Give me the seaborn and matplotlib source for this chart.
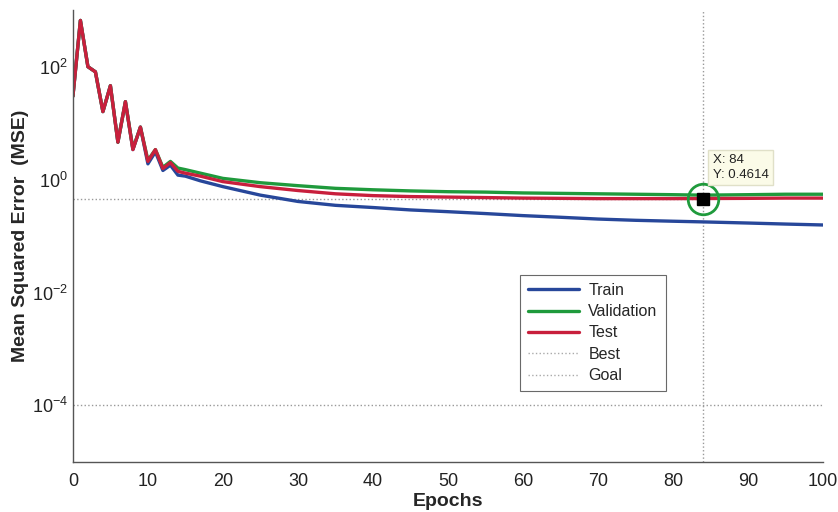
import pandas as pd
import matplotlib
matplotlib.use("Agg")
import matplotlib.pyplot as plt
import seaborn as sns
from matplotlib.lines import Line2D

sns.set_theme(style="white")
plt.rcParams['font.family'] = ['Liberation Sans', 'DejaVu Sans']

# Values
epochs = [0, 1, 2, 3, 4, 5, 6, 7, 8, 9, 10, 11, 12, 13, 14, 15, 17, 20, 25, 30,
          35, 40, 45, 50, 55, 60, 65, 70, 75, 80, 84, 90, 95, 100]
train_mse = [30, 660, 100, 81, 16, 46, 4.6, 24, 3.4, 8.5, 1.9, 3.1, 1.45, 1.8, 1.2, 1.15, 0.95, 0.75, 0.53, 0.41,
             0.35, 0.32, 0.29, 0.27, 0.25, 0.23, 0.215, 0.2, 0.19, 0.183, 0.178, 0.17, 0.163, 0.157]
valid_mse = [30, 660, 100, 81, 16, 46, 4.6, 24, 3.5, 8.5, 2.2, 3.4, 1.65, 2.1, 1.6, 1.5, 1.3, 1.05, 0.88, 0.78,
             0.7, 0.66, 0.63, 0.61, 0.6, 0.58, 0.57, 0.56, 0.55, 0.54, 0.53, 0.54, 0.55, 0.55]
test_mse = [30, 660, 100, 81, 16, 46, 4.6, 24, 3.4, 8.5, 2.1, 3.4, 1.57, 2.0, 1.4, 1.3, 1.15, 0.92, 0.75, 0.64,
            0.56, 0.52, 0.5, 0.49, 0.48, 0.47, 0.465, 0.46, 0.46, 0.46, 0.4614, 0.465, 0.47, 0.47]
best_epoch = 84
best_value = 0.4614
goal = 1e-4

df = pd.concat([
    pd.DataFrame({"Epoch": epochs, "MSE": train_mse, "Set": "Train"}),
    pd.DataFrame({"Epoch": epochs, "MSE": valid_mse, "Set": "Validation"}),
    pd.DataFrame({"Epoch": epochs, "MSE": test_mse, "Set": "Test"}),
])
colors = {"Train": "#27479a", "Validation": "#1f9a3c", "Test": "#c81f3c"}

fig = plt.figure(figsize=(8.38, 5.12), dpi=100)
ax = fig.add_axes([0.087, 0.098, 0.895, 0.882])

# best/goal guide lines
ax.axhline(goal, color="#999999", ls=":", lw=1)
ax.axhline(best_value, xmax=best_epoch / 100, color="#999999", ls=":", lw=1)
ax.axvline(best_epoch, color="#999999", ls=":", lw=1)

sns.lineplot(data=df, x="Epoch", y="MSE", hue="Set", palette=colors, lw=2.4,
             ax=ax, legend=False, hue_order=["Train", "Validation", "Test"])

ax.set_yscale("log")
ax.set_xlim(0, 100)
ax.set_ylim(1e-5, 1e3)
ax.set_yticks([1e-4, 1e-2, 1e0, 1e2])
ax.minorticks_off()
ax.set_xticks(range(0, 101, 10))

# best point marker + data tip
ax.plot([best_epoch], [best_value], marker="o", ms=22, mfc="none", mec="#1f9a3c", mew=2)
ax.plot([best_epoch], [best_value], marker="s", ms=8, color="black")
ax.annotate("X: 84\nY: 0.4614", xy=(best_epoch, best_value), xytext=(85.3, 0.95),
            fontsize=9.5, color="#222222", va="bottom", ha="left", linespacing=1.3,
            bbox=dict(boxstyle="square,pad=0.35", fc="#fbfbe8", ec="#e0e0c8"))

for s in ["top", "right"]:
    ax.spines[s].set_visible(False)
for s in ["left", "bottom"]:
    ax.spines[s].set_color("#555555")
    ax.spines[s].set_linewidth(1)
ax.tick_params(direction="in", length=5, color="#555555", labelsize=12, labelcolor="#222222")
ax.tick_params(axis="x", pad=8)
for lab in ax.get_xticklabels() + ax.get_yticklabels():
    lab.set_fontfamily(["Liberation Sans Narrow", "Liberation Sans", "DejaVu Sans"])
    lab.set_fontsize(13)

ax.set_xlabel("Epochs", fontsize=14, fontweight="bold", labelpad=2)
ax.set_ylabel("Mean Squared Error  (MSE)", fontsize=14, fontweight="bold", labelpad=2)

handles = [
    Line2D([], [], color=colors["Train"], lw=2.4),
    Line2D([], [], color=colors["Validation"], lw=2.4),
    Line2D([], [], color=colors["Test"], lw=2.4),
    Line2D([], [], color="#aaaaaa", lw=1, ls=":"),
    Line2D([], [], color="#aaaaaa", lw=1, ls=":"),
]
leg = ax.legend(handles, ["Train", "Validation", "Test", "Best", "Goal"],
                loc="upper left", bbox_to_anchor=(0.585, 0.432), fontsize=11.5,
                frameon=True, fancybox=False, edgecolor="#444444",
                handlelength=3.2, handletextpad=0.6, borderpad=0.5, labelspacing=0.4)
leg.get_frame().set_linewidth(0.8)

fig.savefig("out.png", dpi=100)
